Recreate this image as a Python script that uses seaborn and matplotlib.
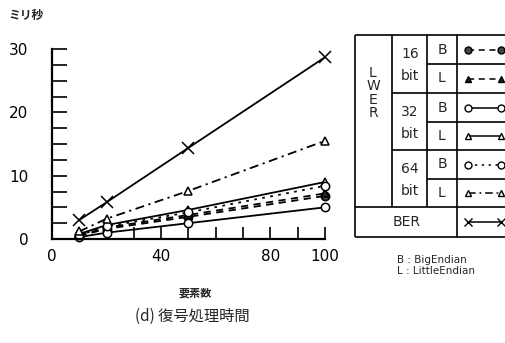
import matplotlib
matplotlib.use("Agg")
import matplotlib.pyplot as plt
import seaborn as sns
import pandas as pd
from matplotlib.ticker import FixedLocator

# ---- data ----
x_elems = [10, 20, 50, 100]
ber = [3.0, 5.8, 14.4, 28.7]
lwer_16_b = [0.5, 1.6, 3.5, 6.8]
lwer_16_l = [0.6, 1.8, 3.8, 7.2]
lwer_32_b = [0.3, 1.0, 2.5, 5.0]
lwer_32_l = [0.8, 2.2, 4.6, 9.0]
lwer_64_b = [0.6, 2.0, 4.2, 8.4]
lwer_64_l = [1.2, 3.2, 7.6, 15.5]
x_ticks = [0, 40, 80, 100]
x_ticklabels = ["0", "40", "80", "100"]
y_ticks = [0, 10, 20, 30]
y_ticklabels = ["0", "10", "20", "30"]
series_names = ["16B", "16L", "32B", "32L", "64B", "64L", "BER"]

sns.set_theme(style="ticks")
plt.rcParams["font.family"] = ["DejaVu Sans", "Noto Sans CJK JP"]
JP = ["Noto Sans CJK JP", "DejaVu Sans"]

series = {
    "16B": lwer_16_b, "16L": lwer_16_l, "32B": lwer_32_b, "32L": lwer_32_l,
    "64B": lwer_64_b, "64L": lwer_64_l, "BER": ber,
}
styles = {
    "16B": dict(marker="o", mfc="#444444", ls=(0, (4, 3))),
    "16L": dict(marker="^", mfc="#222222", ls=(0, (4, 3))),
    "32B": dict(marker="o", mfc="white", ls="-"),
    "32L": dict(marker="^", mfc="white", ls="-"),
    "64B": dict(marker="o", mfc="white", ls=(0, (1.5, 3))),
    "64L": dict(marker="^", mfc="white", ls=(0, (5, 2.5, 1.2, 2.5))),
    "BER": dict(marker="x", mfc="black", ls="-"),
}

W, H = 506, 343
fig = plt.figure(figsize=(W / 100, H / 100), dpi=100)
ax = fig.add_axes([52 / W, 1 - 239 / H, (325 - 52) / W, (239 - 49) / H])
ax.set_facecolor("none")

for name in series_names:
    st = styles[name]
    ms = 8 if st["marker"] == "x" else 6
    sns.lineplot(x=x_elems, y=series[name], ax=ax, color="black",
                 marker=st["marker"], markerfacecolor=st["mfc"],
                 markeredgecolor="black", markeredgewidth=1.1, markersize=ms,
                 linestyle=st["ls"], linewidth=1.3, clip_on=False)

ax.set_xlim(0, 100)
ax.set_ylim(0, 30)
sns.despine(ax=ax)
for s in ["left", "bottom"]:
    ax.spines[s].set_linewidth(1.6)
    ax.spines[s].set_color("black")

ax.xaxis.set_major_locator(FixedLocator(x_ticks))
ax.set_xticklabels(x_ticklabels)
ax.xaxis.set_minor_locator(FixedLocator([10, 20, 30, 50, 60, 70, 90]))
ax.yaxis.set_major_locator(FixedLocator(y_ticks))
ax.set_yticklabels(y_ticklabels)
ax.yaxis.set_minor_locator(FixedLocator([2.5, 5, 7.5, 12.5, 15, 17.5, 22.5, 25, 27.5]))
ax.tick_params(axis="y", which="both", direction="in", length=11, width=1.2,
               color="black", pad=17, labelsize=11, labelcolor="black")
ax.tick_params(axis="x", which="both", direction="in", length=9, width=1.2,
               color="black", pad=7, labelsize=11, labelcolor="black")
ax.set_xlabel("")
ax.set_ylabel("")

# ---- overlay for texts and the legend table ----
ov = fig.add_axes([0, 0, 1, 1])
ov.set_xlim(0, W)
ov.set_ylim(H, 0)
ov.axis("off")
ov.patch.set_alpha(0)

ov.text(8, 15, "ミリ秒", family=JP, fontsize=8.5, fontweight="bold", va="center", ha="left")
ov.text(195, 293, "要素数", family=JP, fontsize=8, fontweight="bold", va="center", ha="center")
ov.text(192, 316, "(d) 復号処理時間", family=JP, fontsize=11, va="center", ha="center")
ov.text(397, 260, "B : BigEndian", fontsize=7.5, va="center", ha="left")
ov.text(397, 271, "L : LittleEndian", fontsize=7.5, va="center", ha="left")

lk = dict(color="black", lw=1.2, solid_capstyle="butt")
R = 512
ov.plot([355, R], [35, 35], **lk)
ov.plot([355, R], [237, 237], **lk)
ov.plot([355, 355], [35, 237], **lk)
ov.plot([392, 392], [35, 207], **lk)
ov.plot([427, 427], [35, 207], **lk)
ov.plot([457, 457], [35, 237], **lk)
for yy in [64, 122, 179]:
    ov.plot([427, R], [yy, yy], **lk)
for yy in [93, 150]:
    ov.plot([392, R], [yy, yy], **lk)
ov.plot([355, R], [207, 207], **lk)

tf = dict(fontsize=10, va="center", ha="center")
ov.text(373, 93, "L\nW\nE\nR", linespacing=0.95, **tf)
for (lab, yc) in [("16", 64), ("32", 122), ("64", 179)]:
    ov.text(410, yc - 10, lab, **tf)
    ov.text(410, yc + 12, "bit", **tf)
rows_y = [49.5, 78.5, 107.5, 136, 164.5, 193, 222]
for i, name in enumerate(series_names):
    yc = rows_y[i]
    if name != "BER":
        ov.text(442, yc, "B" if name.endswith("B") else "L", **tf)
    st = styles[name]
    ms = 6 if st["marker"] == "x" else 5
    ov.plot([468, 501], [yc, yc], color="black", marker=st["marker"],
            mfc=st["mfc"], mec="black", mew=1.0, ms=ms, ls=st["ls"], lw=1.1)
ov.text(407, 222, "BER", **tf)

fig.savefig("out.png", dpi=100)
